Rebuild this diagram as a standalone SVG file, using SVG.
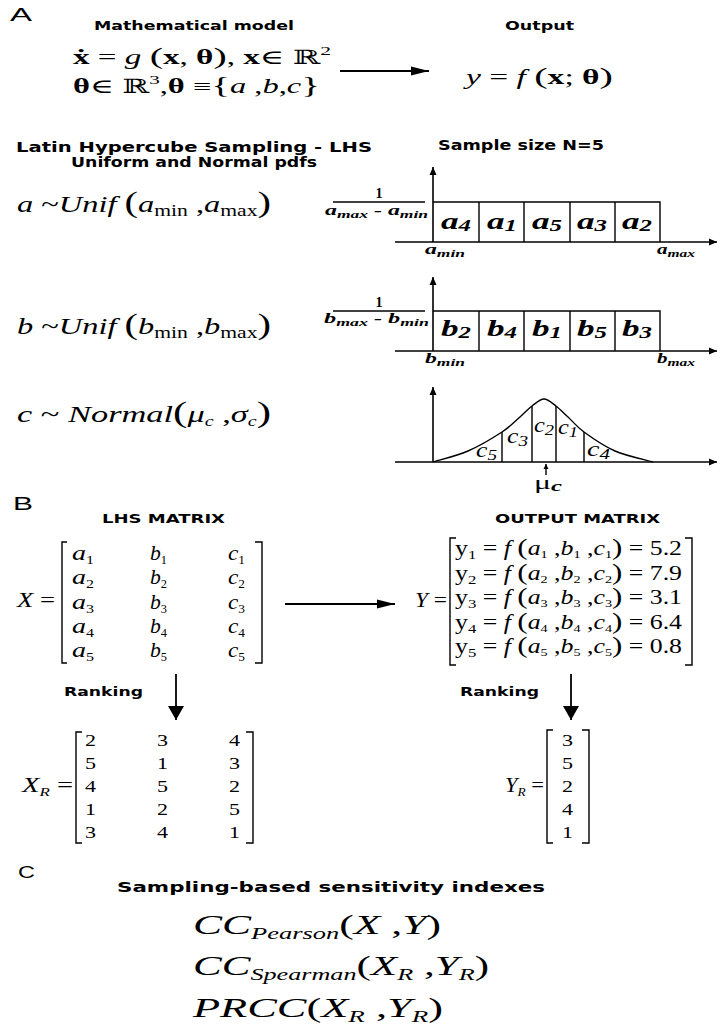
<svg xmlns="http://www.w3.org/2000/svg" width="720" height="1031" viewBox="0 0 720 1031">
<style>
text{fill:#000}
.sb{font-family:"DejaVu Sans",Verdana,sans-serif;font-weight:bold}
.ls{font-family:"Liberation Sans",Arial,sans-serif}
.m{font-family:"Liberation Serif","DejaVu Serif",serif}
.i{font-style:italic}
.b{font-weight:bold}
.bi{font-weight:bold;font-style:italic}
.ln{stroke:#000;stroke-width:1.4;fill:none}
.ax{stroke:#000;stroke-width:1.6;fill:none}
.ar{stroke:#000;stroke-width:1.8;fill:none}
</style>
<defs>
<marker id="ah" markerUnits="userSpaceOnUse" markerWidth="18" markerHeight="10" refX="18" refY="5" orient="auto"><path d="M0,0.5 L18,5 L0,9.5 z" fill="#000"/></marker>
<marker id="av" markerUnits="userSpaceOnUse" markerWidth="14" markerHeight="16" refX="14" refY="8" orient="auto"><path d="M0,0 L14,8 L0,16 z" fill="#000"/></marker>
<marker id="ak" markerUnits="userSpaceOnUse" markerWidth="9" markerHeight="8" refX="8" refY="4" orient="auto"><path d="M0,0.5 L8,4 L0,7.5 z" fill="#000"/></marker>
<marker id="as" markerUnits="userSpaceOnUse" markerWidth="6" markerHeight="6" refX="5" refY="3" orient="auto"><path d="M0,0.5 L5,3 L0,5.5 z" fill="#000"/></marker>
</defs>
<rect width="720" height="1031" fill="#fff"/>

<g id="label-A"><text class="ls" x="10" y="21" font-size="19" textLength="22" lengthAdjust="spacingAndGlyphs">A</text></g>

<g id="model">
<text class="sb" x="94" y="30" font-size="12.5" textLength="200" lengthAdjust="spacingAndGlyphs">Mathematical model</text>
<text class="m" x="73" y="64" font-size="20" textLength="258" lengthAdjust="spacingAndGlyphs"><tspan class="b">ẋ</tspan> = <tspan class="i">g</tspan> <tspan font-size="24">(</tspan><tspan class="b">x</tspan>, <tspan class="b">θ</tspan><tspan font-size="24">)</tspan>, <tspan class="b">x</tspan>∈ ℝ<tspan font-size="13" dy="-9">2</tspan></text>
<text class="m" x="73" y="93" font-size="20" textLength="247" lengthAdjust="spacingAndGlyphs"><tspan class="b">θ</tspan>∈ ℝ<tspan font-size="13" dy="-9">3</tspan><tspan dy="9">,</tspan><tspan class="b">θ</tspan> ≡<tspan font-size="24">{</tspan><tspan class="i">a</tspan> ,<tspan class="i">b</tspan>,<tspan class="i">c</tspan><tspan font-size="24">}</tspan></text>
</g>

<g id="output">
<text class="sb" x="505" y="30" font-size="12.5" textLength="69" lengthAdjust="spacingAndGlyphs">Output</text>
<text class="m" x="466" y="84" font-size="20" textLength="147" lengthAdjust="spacingAndGlyphs"><tspan class="i">y</tspan> = <tspan class="i">f</tspan> <tspan font-size="24">(</tspan><tspan class="b">x</tspan>; <tspan class="b">θ</tspan><tspan font-size="24">)</tspan></text>
</g>

<g id="lhs-header">
<text class="sb" x="16" y="152" font-size="13.5" textLength="356" lengthAdjust="spacingAndGlyphs">Latin Hypercube Sampling - LHS</text>
<text class="sb" x="71" y="167" font-size="13.5" textLength="246" lengthAdjust="spacingAndGlyphs">Uniform and Normal pdfs</text>
<text class="sb" x="438" y="150" font-size="13.5" textLength="166" lengthAdjust="spacingAndGlyphs">Sample size N=5</text>
</g>

<g id="dist-a">
<text class="m" x="17" y="212" font-size="24" textLength="254" lengthAdjust="spacingAndGlyphs"><tspan class="i">a</tspan> ~<tspan class="i">Unif</tspan> <tspan font-size="30">(</tspan><tspan class="i">a</tspan><tspan font-size="16" dy="4">min</tspan><tspan dy="-4"> ,</tspan><tspan class="i">a</tspan><tspan font-size="16" dy="4">max</tspan><tspan font-size="30" dy="-4">)</tspan></text>
</g>

<g id="plot-a">
<line class="ax" x1="433" y1="242" x2="433" y2="167" marker-end="url(#ak)"/>
<line class="ax" x1="395" y1="242" x2="717" y2="242" marker-end="url(#ak)"/>
<path class="ln" d="M433,202 H660 V242 M479,202 V242 M524,202 V242 M570,202 V242 M615,202 V242"/>
<line class="ln" x1="333" y1="202" x2="425" y2="202"/>
<text class="m b" x="379" y="198" font-size="14" text-anchor="middle">1</text>
<text class="m bi" x="325" y="215" font-size="15" textLength="103" lengthAdjust="spacingAndGlyphs">a<tspan font-size="11" dy="3">max</tspan><tspan dy="-3"> - a</tspan><tspan font-size="11" dy="3">min</tspan></text>
<text class="m bi" x="441" y="229" font-size="24" textLength="30" lengthAdjust="spacingAndGlyphs">a<tspan font-size="17" dy="2">4</tspan></text>
<text class="m bi" x="487" y="229" font-size="24" textLength="30" lengthAdjust="spacingAndGlyphs">a<tspan font-size="17" dy="2">1</tspan></text>
<text class="m bi" x="532" y="229" font-size="24" textLength="30" lengthAdjust="spacingAndGlyphs">a<tspan font-size="17" dy="2">5</tspan></text>
<text class="m bi" x="577" y="229" font-size="24" textLength="30" lengthAdjust="spacingAndGlyphs">a<tspan font-size="17" dy="2">3</tspan></text>
<text class="m bi" x="622" y="229" font-size="24" textLength="30" lengthAdjust="spacingAndGlyphs">a<tspan font-size="17" dy="2">2</tspan></text>
<text class="m bi" x="425" y="254" font-size="15" textLength="40" lengthAdjust="spacingAndGlyphs">a<tspan font-size="11" dy="3">min</tspan></text>
<text class="m bi" x="657" y="254" font-size="15" textLength="38" lengthAdjust="spacingAndGlyphs">a<tspan font-size="11" dy="3">max</tspan></text>
</g>

<g id="dist-b">
<text class="m" x="17" y="334" font-size="24" textLength="254" lengthAdjust="spacingAndGlyphs"><tspan class="i">b</tspan> ~<tspan class="i">Unif</tspan> <tspan font-size="30">(</tspan><tspan class="i">b</tspan><tspan font-size="16" dy="4">min</tspan><tspan dy="-4"> ,</tspan><tspan class="i">b</tspan><tspan font-size="16" dy="4">max</tspan><tspan font-size="30" dy="-4">)</tspan></text>
</g>

<g id="plot-b">
<line class="ax" x1="433" y1="351" x2="433" y2="277" marker-end="url(#ak)"/>
<line class="ax" x1="395" y1="351" x2="717" y2="351" marker-end="url(#ak)"/>
<path class="ln" d="M433,311 H660 V351 M479,311 V351 M524,311 V351 M570,311 V351 M615,311 V351"/>
<line class="ln" x1="333" y1="311" x2="425" y2="311"/>
<text class="m b" x="379" y="307" font-size="14" text-anchor="middle">1</text>
<text class="m bi" x="324" y="323" font-size="15" textLength="105" lengthAdjust="spacingAndGlyphs">b<tspan font-size="11" dy="3">max</tspan><tspan dy="-3"> - b</tspan><tspan font-size="11" dy="3">min</tspan></text>
<text class="m bi" x="441" y="336" font-size="24" textLength="30" lengthAdjust="spacingAndGlyphs">b<tspan font-size="17" dy="2">2</tspan></text>
<text class="m bi" x="487" y="336" font-size="24" textLength="30" lengthAdjust="spacingAndGlyphs">b<tspan font-size="17" dy="2">4</tspan></text>
<text class="m bi" x="532" y="336" font-size="24" textLength="30" lengthAdjust="spacingAndGlyphs">b<tspan font-size="17" dy="2">1</tspan></text>
<text class="m bi" x="577" y="336" font-size="24" textLength="30" lengthAdjust="spacingAndGlyphs">b<tspan font-size="17" dy="2">5</tspan></text>
<text class="m bi" x="622" y="336" font-size="24" textLength="30" lengthAdjust="spacingAndGlyphs">b<tspan font-size="17" dy="2">3</tspan></text>
<text class="m bi" x="425" y="363" font-size="15" textLength="40" lengthAdjust="spacingAndGlyphs">b<tspan font-size="11" dy="3">min</tspan></text>
<text class="m bi" x="657" y="363" font-size="15" textLength="38" lengthAdjust="spacingAndGlyphs">b<tspan font-size="11" dy="3">max</tspan></text>
</g>

<g id="dist-c">
<text class="m" x="17" y="422" font-size="24" textLength="254" lengthAdjust="spacingAndGlyphs"><tspan class="i">c</tspan> ~ <tspan class="i">Normal</tspan><tspan font-size="30">(</tspan><tspan class="i">μ</tspan><tspan class="i" font-size="14" dy="4">c</tspan><tspan dy="-4"> ,</tspan><tspan class="i">σ</tspan><tspan class="i" font-size="14" dy="4">c</tspan><tspan font-size="30" dy="-4">)</tspan></text>
</g>

<g id="plot-c">
<line class="ax" x1="433" y1="462" x2="433" y2="387" marker-end="url(#ak)"/>
<line class="ax" x1="395" y1="462" x2="717" y2="462" marker-end="url(#ak)"/>
<path class="ln" d="M433,462 C438.8,460.2 456.5,456 468,451 C479.5,446 493.3,437.7 502,432 C510.7,426.3 515,421.3 520,417 C525,412.7 528,409 532,406 C536,403 540,399 544,399 C548,399 552,403 556,406 C560,409 563.3,412.7 568,417 C572.7,421.3 576.2,426.3 584,432 C591.8,437.7 603.5,446 615,451 C626.5,456 646.7,460.2 653,462"/>
<path class="ln" d="M502,462 V432 M532,462 V406 M556,462 V406 M584,462 V432"/>
<text class="m i" x="476" y="457" font-size="20" textLength="21" lengthAdjust="spacingAndGlyphs">c<tspan font-size="15" dy="3">5</tspan></text>
<text class="m i" x="507" y="443" font-size="20" textLength="21" lengthAdjust="spacingAndGlyphs">c<tspan font-size="15" dy="3">3</tspan></text>
<text class="m i" x="534" y="432" font-size="20" textLength="20" lengthAdjust="spacingAndGlyphs">c<tspan font-size="15" dy="3">2</tspan></text>
<text class="m i" x="558" y="434" font-size="20" textLength="20" lengthAdjust="spacingAndGlyphs">c<tspan font-size="15" dy="3">1</tspan></text>
<text class="m i" x="587" y="456" font-size="20" textLength="23" lengthAdjust="spacingAndGlyphs">c<tspan font-size="15" dy="3">4</tspan></text>
<line class="ln" x1="546" y1="475" x2="546" y2="464" marker-end="url(#as)" stroke-width="1"/>
<text class="m" x="534" y="489" font-size="18" textLength="28" lengthAdjust="spacingAndGlyphs">μ<tspan class="bi" font-size="14" dy="2">c</tspan></text>
</g>

<g id="label-B"><text class="ls" x="13" y="510" font-size="19" textLength="20" lengthAdjust="spacingAndGlyphs">B</text></g>

<g id="lhs-matrix">
<text class="sb" x="102" y="523" font-size="12" textLength="123" lengthAdjust="spacingAndGlyphs">LHS MATRIX</text>
<text class="m" x="17" y="607" font-size="22" textLength="38" lengthAdjust="spacingAndGlyphs"><tspan class="i">X</tspan> =</text>
<path class="ln" d="M67,542 H62 V663 H67 M255,542 H262 V663 H255"/>
<g class="m" font-size="21">
<text x="72" y="560" textLength="22" lengthAdjust="spacingAndGlyphs"><tspan class="i">a</tspan><tspan font-size="12" dy="4">1</tspan></text>
<text x="150" y="560" textLength="17" lengthAdjust="spacingAndGlyphs"><tspan class="i">b</tspan><tspan font-size="12" dy="4">1</tspan></text>
<text x="228" y="560" textLength="17" lengthAdjust="spacingAndGlyphs"><tspan class="i">c</tspan><tspan font-size="12" dy="4">1</tspan></text>
<text x="72" y="584" textLength="22" lengthAdjust="spacingAndGlyphs"><tspan class="i">a</tspan><tspan font-size="12" dy="4">2</tspan></text>
<text x="150" y="584" textLength="17" lengthAdjust="spacingAndGlyphs"><tspan class="i">b</tspan><tspan font-size="12" dy="4">2</tspan></text>
<text x="228" y="584" textLength="17" lengthAdjust="spacingAndGlyphs"><tspan class="i">c</tspan><tspan font-size="12" dy="4">2</tspan></text>
<text x="72" y="608.5" textLength="22" lengthAdjust="spacingAndGlyphs"><tspan class="i">a</tspan><tspan font-size="12" dy="4">3</tspan></text>
<text x="150" y="608.5" textLength="17" lengthAdjust="spacingAndGlyphs"><tspan class="i">b</tspan><tspan font-size="12" dy="4">3</tspan></text>
<text x="228" y="608.5" textLength="17" lengthAdjust="spacingAndGlyphs"><tspan class="i">c</tspan><tspan font-size="12" dy="4">3</tspan></text>
<text x="72" y="633" textLength="22" lengthAdjust="spacingAndGlyphs"><tspan class="i">a</tspan><tspan font-size="12" dy="4">4</tspan></text>
<text x="150" y="633" textLength="17" lengthAdjust="spacingAndGlyphs"><tspan class="i">b</tspan><tspan font-size="12" dy="4">4</tspan></text>
<text x="228" y="633" textLength="17" lengthAdjust="spacingAndGlyphs"><tspan class="i">c</tspan><tspan font-size="12" dy="4">4</tspan></text>
<text x="72" y="657" textLength="22" lengthAdjust="spacingAndGlyphs"><tspan class="i">a</tspan><tspan font-size="12" dy="4">5</tspan></text>
<text x="150" y="657" textLength="17" lengthAdjust="spacingAndGlyphs"><tspan class="i">b</tspan><tspan font-size="12" dy="4">5</tspan></text>
<text x="228" y="657" textLength="17" lengthAdjust="spacingAndGlyphs"><tspan class="i">c</tspan><tspan font-size="12" dy="4">5</tspan></text>
</g>
</g>

<g id="output-matrix">
<text class="sb" x="495" y="523" font-size="12" textLength="165" lengthAdjust="spacingAndGlyphs">OUTPUT MATRIX</text>
<text class="m" x="415" y="607" font-size="22" textLength="32" lengthAdjust="spacingAndGlyphs"><tspan class="i">Y</tspan> =</text>
<path class="ln" d="M456,538 H450 V665 H456 M685,538 H692 V665 H685"/>
<g class="m" font-size="20">
<text x="455" y="555" textLength="227" lengthAdjust="spacingAndGlyphs">y<tspan font-size="13" dy="4">1</tspan><tspan dy="-4"> = </tspan><tspan class="i">f</tspan> <tspan font-size="24">(</tspan><tspan class="i">a</tspan><tspan font-size="11" dy="3">1</tspan><tspan dy="-3"> ,</tspan><tspan class="i">b</tspan><tspan font-size="11" dy="3">1</tspan><tspan dy="-3"> ,</tspan><tspan class="i">c</tspan><tspan font-size="11" dy="3">1</tspan><tspan font-size="24" dy="-3">)</tspan> = 5.2</text>
<text x="455" y="579.5" textLength="227" lengthAdjust="spacingAndGlyphs">y<tspan font-size="13" dy="4">2</tspan><tspan dy="-4"> = </tspan><tspan class="i">f</tspan> <tspan font-size="24">(</tspan><tspan class="i">a</tspan><tspan font-size="11" dy="3">2</tspan><tspan dy="-3"> ,</tspan><tspan class="i">b</tspan><tspan font-size="11" dy="3">2</tspan><tspan dy="-3"> ,</tspan><tspan class="i">c</tspan><tspan font-size="11" dy="3">2</tspan><tspan font-size="24" dy="-3">)</tspan> = 7.9</text>
<text x="455" y="604" textLength="227" lengthAdjust="spacingAndGlyphs">y<tspan font-size="13" dy="4">3</tspan><tspan dy="-4"> = </tspan><tspan class="i">f</tspan> <tspan font-size="24">(</tspan><tspan class="i">a</tspan><tspan font-size="11" dy="3">3</tspan><tspan dy="-3"> ,</tspan><tspan class="i">b</tspan><tspan font-size="11" dy="3">3</tspan><tspan dy="-3"> ,</tspan><tspan class="i">c</tspan><tspan font-size="11" dy="3">3</tspan><tspan font-size="24" dy="-3">)</tspan> = 3.1</text>
<text x="455" y="628.5" textLength="227" lengthAdjust="spacingAndGlyphs">y<tspan font-size="13" dy="4">4</tspan><tspan dy="-4"> = </tspan><tspan class="i">f</tspan> <tspan font-size="24">(</tspan><tspan class="i">a</tspan><tspan font-size="11" dy="3">4</tspan><tspan dy="-3"> ,</tspan><tspan class="i">b</tspan><tspan font-size="11" dy="3">4</tspan><tspan dy="-3"> ,</tspan><tspan class="i">c</tspan><tspan font-size="11" dy="3">4</tspan><tspan font-size="24" dy="-3">)</tspan> = 6.4</text>
<text x="455" y="653" textLength="227" lengthAdjust="spacingAndGlyphs">y<tspan font-size="13" dy="4">5</tspan><tspan dy="-4"> = </tspan><tspan class="i">f</tspan> <tspan font-size="24">(</tspan><tspan class="i">a</tspan><tspan font-size="11" dy="3">5</tspan><tspan dy="-3"> ,</tspan><tspan class="i">b</tspan><tspan font-size="11" dy="3">5</tspan><tspan dy="-3"> ,</tspan><tspan class="i">c</tspan><tspan font-size="11" dy="3">5</tspan><tspan font-size="24" dy="-3">)</tspan> = 0.8</text>
</g>
</g>

<g id="ranking-x">
<text class="sb" x="64" y="696" font-size="12.5" textLength="79" lengthAdjust="spacingAndGlyphs">Ranking</text>
</g>
<g id="ranking-y">
<text class="sb" x="460" y="696" font-size="12.5" textLength="79" lengthAdjust="spacingAndGlyphs">Ranking</text>
</g>

<g id="xr-matrix">
<text class="m" x="22" y="792" font-size="22" textLength="51" lengthAdjust="spacingAndGlyphs"><tspan class="i">X</tspan><tspan class="i" font-size="13" dy="4">R</tspan><tspan dy="-4"> =</tspan></text>
<path class="ln" d="M82,732 H76 V843 H82 M246,732 H253 V843 H246"/>
<g class="m" font-size="17">
<text x="85" y="746" textLength="11" lengthAdjust="spacingAndGlyphs">2</text><text x="157" y="746" textLength="11" lengthAdjust="spacingAndGlyphs">3</text><text x="229" y="746" textLength="11" lengthAdjust="spacingAndGlyphs">4</text>
<text x="85" y="769" textLength="11" lengthAdjust="spacingAndGlyphs">5</text><text x="157" y="769" textLength="11" lengthAdjust="spacingAndGlyphs">1</text><text x="229" y="769" textLength="11" lengthAdjust="spacingAndGlyphs">3</text>
<text x="85" y="792" textLength="11" lengthAdjust="spacingAndGlyphs">4</text><text x="157" y="792" textLength="11" lengthAdjust="spacingAndGlyphs">5</text><text x="229" y="792" textLength="11" lengthAdjust="spacingAndGlyphs">2</text>
<text x="85" y="815" textLength="11" lengthAdjust="spacingAndGlyphs">1</text><text x="157" y="815" textLength="11" lengthAdjust="spacingAndGlyphs">2</text><text x="229" y="815" textLength="11" lengthAdjust="spacingAndGlyphs">5</text>
<text x="85" y="838" textLength="11" lengthAdjust="spacingAndGlyphs">3</text><text x="157" y="838" textLength="11" lengthAdjust="spacingAndGlyphs">4</text><text x="229" y="838" textLength="11" lengthAdjust="spacingAndGlyphs">1</text>
</g>
</g>

<g id="yr-matrix">
<text class="m" x="505" y="792" font-size="22" textLength="39" lengthAdjust="spacingAndGlyphs"><tspan class="i">Y</tspan><tspan class="i" font-size="13" dy="4">R</tspan><tspan dy="-4"> =</tspan></text>
<path class="ln" d="M553,730 H547 V843 H553 M582,730 H589 V843 H582"/>
<g class="m" font-size="17">
<text x="562" y="746" textLength="11" lengthAdjust="spacingAndGlyphs">3</text>
<text x="562" y="769" textLength="11" lengthAdjust="spacingAndGlyphs">5</text>
<text x="562" y="792" textLength="11" lengthAdjust="spacingAndGlyphs">2</text>
<text x="562" y="815" textLength="11" lengthAdjust="spacingAndGlyphs">4</text>
<text x="562" y="838" textLength="11" lengthAdjust="spacingAndGlyphs">1</text>
</g>
</g>

<g id="label-C"><text class="ls" x="18" y="878" font-size="17" textLength="17" lengthAdjust="spacingAndGlyphs">C</text></g>

<g id="indexes">
<text class="sb" x="117" y="892" font-size="14" textLength="428" lengthAdjust="spacingAndGlyphs">Sampling-based sensitivity indexes</text>
<text class="m" x="193" y="934" font-size="28" textLength="248" lengthAdjust="spacingAndGlyphs"><tspan class="i">CC</tspan><tspan class="i" font-size="17" dy="5">Pearson</tspan><tspan dy="-5">(</tspan><tspan class="i">X</tspan> ,<tspan class="i">Y</tspan>)</text>
<text class="m" x="193" y="975" font-size="28" textLength="296" lengthAdjust="spacingAndGlyphs"><tspan class="i">CC</tspan><tspan class="i" font-size="17" dy="5">Spearman</tspan><tspan dy="-5">(</tspan><tspan class="i">X</tspan><tspan class="i" font-size="17" dy="5">R</tspan><tspan dy="-5"> ,</tspan><tspan class="i">Y</tspan><tspan class="i" font-size="17" dy="5">R</tspan><tspan dy="-5">)</tspan></text>
<text class="m" x="193" y="1017" font-size="28" textLength="250" lengthAdjust="spacingAndGlyphs"><tspan class="i">PRCC</tspan>(<tspan class="i">X</tspan><tspan class="i" font-size="17" dy="5">R</tspan><tspan dy="-5"> ,</tspan><tspan class="i">Y</tspan><tspan class="i" font-size="17" dy="5">R</tspan><tspan dy="-5">)</tspan></text>
</g>

<g id="connectors">
<line class="ar" x1="340" y1="71" x2="429" y2="71" marker-end="url(#ah)"/>
<line class="ar" x1="285" y1="604" x2="395" y2="604" marker-end="url(#ah)"/>
<line class="ar" x1="176" y1="674" x2="176" y2="720" marker-end="url(#av)"/>
<line class="ar" x1="571" y1="674" x2="571" y2="720" marker-end="url(#av)"/>
</g>
</svg>
